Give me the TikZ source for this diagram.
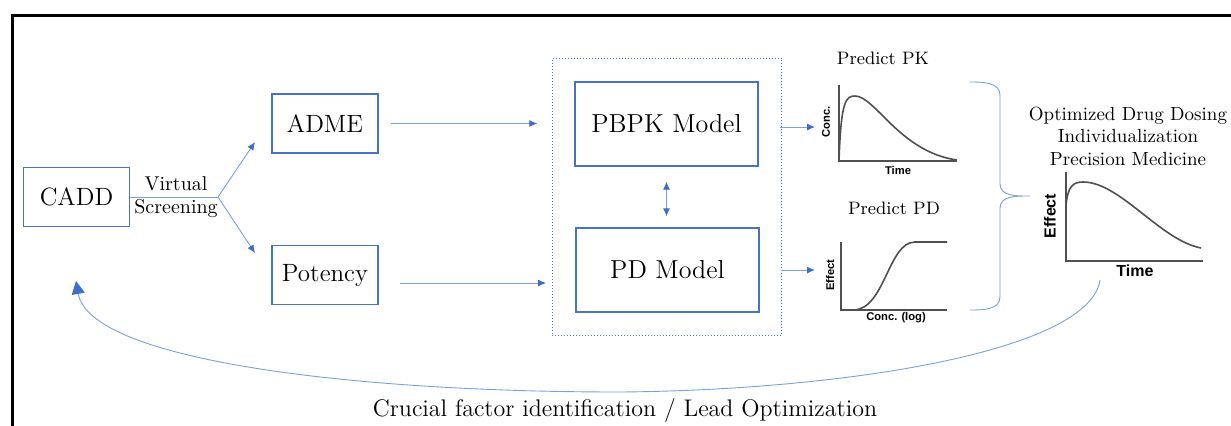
\documentclass[tikz,border=0pt]{standalone}
\usepackage{fontspec}
\setsansfont{Liberation Sans}
\usetikzlibrary{arrows.meta, fit}

\definecolor{boxblue}{HTML}{4A72C2}
\definecolor{lineblue}{HTML}{7D9FDD}
\definecolor{tipblue}{HTML}{3D6CCB}
\definecolor{curvegray}{HTML}{505050}

\begin{document}
\begin{tikzpicture}[
  x=0.5pt, y=-0.5pt,
  box/.style={draw=boxblue, line width=0.7pt, minimum width=53pt, minimum height=29.5pt, font=\fontsize{12.5}{14}\selectfont},
  model/.style={box, minimum width=91.5pt, minimum height=42pt, font=\fontsize{13}{15}\selectfont},
  group/.style={draw=boxblue, densely dotted, line width=0.5pt, inner xsep=11pt, inner ysep=11.5pt},
  line/.style={draw=lineblue, line width=0.45pt},
  link/.style={line, -{Latex[length=4pt, width=3.5pt, color=tipblue]}},
  dlink/.style={line, {Latex[length=4pt, width=3.5pt, color=tipblue]}-{Latex[length=4pt, width=3.5pt, color=tipblue]}},
  axis/.style={draw=curvegray, line width=0.6pt},
  curve/.style={draw=curvegray, line width=0.8pt},
  axlabel/.style={font=\sffamily\bfseries\fontsize{5.6}{6}\selectfont, inner sep=1pt},
  title/.style={font=\fontsize{9}{10}\selectfont}
  ]

  \clip (0,0) rectangle (1231,425);

  % outer frame, cut off at right and bottom
  \draw[line width=1.5pt] (12,15) rectangle (1250,440);

  \node[box] (cadd) at (76.5,197) {CADD};
  \node[box] (adme) at (325,123.5) {ADME};
  \node[box] (potency) at (325,275) {Potency};
  \node[model] (pbpk) at (666.5,124) {PBPK Model};
  \node[model] (pd) at (667.5,270) {PD Model};
  \node[group, fit=(pbpk)(pd)] (stack) {};

  \node[align=center, font=\fontsize{10}{11.5}\selectfont] (vs) at (176,197) {Virtual\\Screening};

  % fork after virtual screening
  \coordinate (fork) at (218,197);
  \coordinate (toadme) at (255,142);
  \coordinate (topot) at (255,253);
  \draw[line] (cadd.east) -- (fork);
  \draw[link] (fork) -- (toadme);
  \draw[link] (fork) -- (topot);

  \draw[link, shorten <=6pt, shorten >=18.5pt] (adme.east) -- (adme.east -| pbpk.west);
  \coordinate (potout) at (400,283);
  \coordinate (potin) at (546,283);
  \draw[link] (potout) -- (potin);

  \draw[dlink, shorten <=7.5pt, shorten >=5.5pt] (pbpk.south) -- (pbpk.south |- pd.north);

  \coordinate (pkin) at (815,127);
  \coordinate (pdin) at (815,270);
  \draw[link, shorten <=10.5pt] (pbpk.east |- pkin) -- (pkin);
  \draw[link, shorten <=10.5pt] (pd.east |- pdin) -- (pdin);

  % PK graph
  \node[title] (pktitle) at (883,58) {Predict PK};
  \draw[axis] (839,85) -- (839,161) -- (957,161);
  \draw[curve] (839,161) .. controls (841,100) and (846,96) .. (855,96)
    .. controls (875,96) and (900,152) .. (957,160);
  \node[axlabel, rotate=90] (pky) at (826,122) {Conc.};
  \node[axlabel] (pkx) at (898,170) {Time};

  % PD graph
  \node[title] (pdtitle) at (894,208) {Predict PD};
  \draw[axis] (841,242) -- (841,310) -- (947,310);
  \draw[curve] (853,310) .. controls (885,310) and (888,242) .. (915,242) -- (947,242);
  \node[axlabel, rotate=90] (pdy) at (830,275) {Effect};
  \node[axlabel] (pdx) at (896,318) {Conc. (log)};

  % brace
  \draw[line] (970,82) to[out=0, in=90] (1000,95) -- (1000,184) to[out=270, in=180] (1030,196)
    to[out=180, in=90] (1000,208) -- (1000,297) to[out=270, in=0] (970,310);

  % effect graph
  \node[align=center, font=\fontsize{9.5}{11.25}\selectfont] (goal) at (1128,136)
    {Optimized Drug Dosing\\Individualization\\Precision Medicine};
  \draw[axis] (1066,172) -- (1066,261) -- (1203,261);
  \draw[curve] (1066,205) .. controls (1068,186) and (1073,182) .. (1083,182)
    .. controls (1120,182) and (1160,240) .. (1201,248);
  \node[axlabel, font=\sffamily\bfseries\fontsize{8}{9}\selectfont, rotate=90] (effy) at (1050,216) {Effect};
  \node[axlabel, font=\sffamily\bfseries\fontsize{8}{9}\selectfont] (effx) at (1135,271) {Time};

  % feedback loop
  \coordinate (fbstart) at (1100,280);
  \coordinate (fbend) at (76,281);
  \draw[line, -{Triangle[length=6.5pt, width=6.5pt, color=tipblue]}] (fbstart)
    .. controls (1090,350) and (850,390) .. (620,392)
    .. controls (350,392) and (90,360) .. (fbend);
  \node[font=\fontsize{12}{14}\selectfont] (fbtext) at (625,410) {Crucial factor identification / Lead Optimization};

\end{tikzpicture}
\end{document}
